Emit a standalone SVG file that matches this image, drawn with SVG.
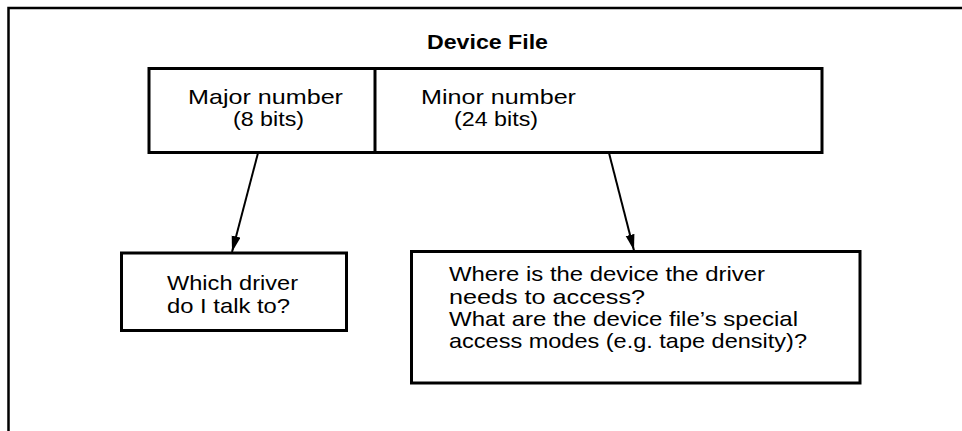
<svg xmlns="http://www.w3.org/2000/svg" width="962" height="431" viewBox="0 0 962 431">
<defs>
<style>
.frame{fill:none;stroke:#000;stroke-width:2.5}
.box{fill:#fff;stroke:#000;stroke-width:3}
.t{font-family:"Liberation Sans",Arial,sans-serif;font-size:21px;fill:#000}
.b{font-weight:bold}
.conn{stroke:#000;stroke-width:2;fill:none}
</style>
<marker id="arr" markerUnits="userSpaceOnUse" markerWidth="17" markerHeight="10" refX="16" refY="4.5" orient="auto">
<path d="M0,0 L16,4.5 L0,9 Z" fill="#000"/>
</marker>
</defs>
<rect width="962" height="431" fill="#fff"/>
<path class="frame" d="M8.5,431 V8 H962"/>
<g id="title">
<text class="t b" x="427" y="49" textLength="121" lengthAdjust="spacingAndGlyphs">Device File</text>
</g>
<g id="device-file">
<rect class="box" x="149" y="68.5" width="673" height="84"/>
<line class="conn" x1="375" y1="68.5" x2="375" y2="152.5" style="stroke-width:3"/>
</g>
<g id="major">
<text class="t" x="188" y="104" textLength="155" lengthAdjust="spacingAndGlyphs">Major number</text>
<text class="t" x="233" y="126" textLength="71" lengthAdjust="spacingAndGlyphs">(8 bits)</text>
</g>
<g id="minor">
<text class="t" x="421" y="104" textLength="155" lengthAdjust="spacingAndGlyphs">Minor number</text>
<text class="t" x="454" y="126" textLength="84" lengthAdjust="spacingAndGlyphs">(24 bits)</text>
</g>
<g id="driver">
<rect class="box" x="121.5" y="253" width="225" height="77.5"/>
<text class="t" x="167" y="290" textLength="131" lengthAdjust="spacingAndGlyphs">Which driver</text>
<text class="t" x="167" y="313" textLength="123" lengthAdjust="spacingAndGlyphs">do I talk to?</text>
</g>
<g id="device">
<rect class="box" x="411.5" y="251.5" width="448.5" height="131.5"/>
<text class="t" x="449" y="281" textLength="316" lengthAdjust="spacingAndGlyphs">Where is the device the driver</text>
<text class="t" x="449" y="304" textLength="196" lengthAdjust="spacingAndGlyphs">needs to access?</text>
<text class="t" x="449" y="326" textLength="349" lengthAdjust="spacingAndGlyphs">What are the device file’s special</text>
<text class="t" x="449" y="348" textLength="358" lengthAdjust="spacingAndGlyphs">access modes (e.g. tape density)?</text>
</g>
<g id="connectors">
<line class="conn" x1="258" y1="153" x2="232" y2="252" marker-end="url(#arr)"/>
<line class="conn" x1="609" y1="153" x2="634" y2="250.5" marker-end="url(#arr)"/>
</g>
</svg>
